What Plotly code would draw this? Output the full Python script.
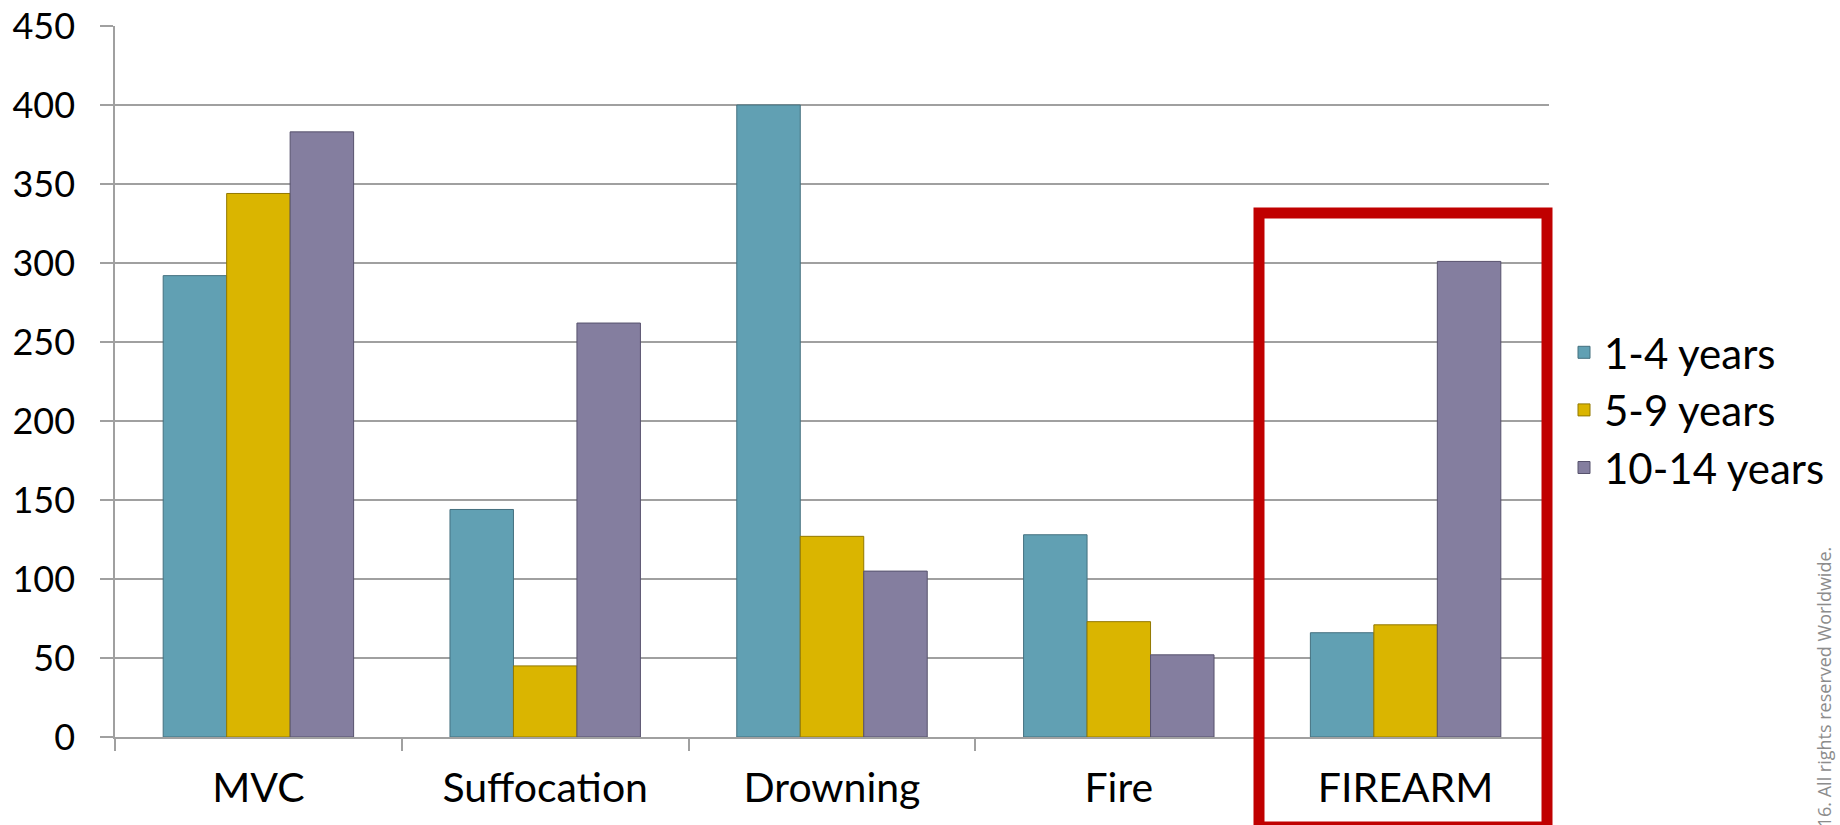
import plotly.graph_objects as go

categories = ["MVC", "Suffocation", "Drowning", "Fire", "FIREARM"]
series_names = ["1-4 years", "5-9 years", "10-14 years"]
ages_1_4 = [292, 144, 400, 128, 66]
ages_5_9 = [344, 45, 127, 73, 71]
ages_10_14 = [383, 262, 105, 52, 301]
y_ticks = [0, 50, 100, 150, 200, 250, 300, 350, 400, 450]

colors = ["#61a0b3", "#dab500", "#847e9f"]
edge = ["#44707f", "#927800", "#57526d"]

W, H = 1840, 825
L, R, T, B = 115, 1549, 26, 737

fig = go.Figure()
for name, vals, c, e in zip(series_names, [ages_1_4, ages_5_9, ages_10_14], colors, edge):
    fig.add_trace(go.Bar(
        x=categories, y=vals, name=name, legendgroup=name,
        marker=dict(color=c, line=dict(color=e, width=1)),
    ))

def px_x(p):
    return (p - L) / (R - L)

def px_y(p):
    return (B - p) / (B - T)

fig.update_layout(
    width=W, height=H,
    margin=dict(l=L, r=W - R, t=T, b=H - B, autoexpand=False),
    paper_bgcolor="white", plot_bgcolor="white",
    barmode="group", bargap=0.336, bargroupgap=0,
    font=dict(family="Lato, 'Noto Sans', sans-serif", color="#000000", size=36),
    showlegend=True,
    legend=dict(
        xref="container", yref="container",
        x=1564 / W, y=1 - 410 / H, xanchor="left", yanchor="middle",
        font=dict(size=42), itemwidth=30, tracegroupgap=24,
        bgcolor="rgba(0,0,0,0)", traceorder="normal",
    ),
    xaxis=dict(
        showline=True, linecolor="#a0a0a0", linewidth=1.5,
        ticks="outside", tickson="boundaries", ticklen=12, tickcolor="#a0a0a0", tickwidth=1.5,
        tickfont=dict(size=41), ticklabelstandoff=14, showgrid=False, fixedrange=True,
        automargin=False,
    ),
    yaxis=dict(
        range=[0, 450], tickvals=y_ticks, ticktext=[str(v) for v in y_ticks],
        showline=True, linecolor="#a0a0a0", linewidth=1.5,
        ticks="outside", ticklen=13, tickcolor="#a0a0a0", tickwidth=1.5,
        showgrid=True, gridcolor="#a0a0a0", gridwidth=1.5,
        tickfont=dict(size=36), ticklabelstandoff=18, zeroline=False,
        automargin=False,
    ),
    shapes=[dict(
        type="rect", xref="paper", yref="paper",
        x0=px_x(1259), x1=px_x(1547), y0=px_y(827), y1=px_y(213),
        line=dict(color="#c00000", width=11), fillcolor="rgba(0,0,0,0)",
        layer="above",
    )],
    annotations=[dict(
        text="© 2016. All rights reserved Worldwide.",
        xref="paper", yref="paper",
        x=px_x(1823), y=px_y(545), xanchor="center", yanchor="top",
        textangle=-90, showarrow=False,
        font=dict(family="Open Sans, sans-serif", size=18, color="#8c8c8c"),
    )],
)

fig.write_html("out.html")
